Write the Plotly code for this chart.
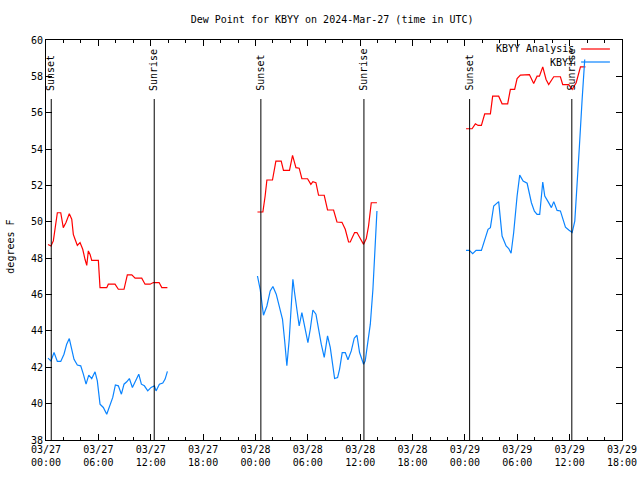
import datetime as dt
import plotly.graph_objects as go

# ---------------- data (hours after 2024-03-27 00:00 UTC, dew point in F) -------------
START = dt.datetime(2024, 3, 27, 0, 0)

analysis_hours_1 = [0.23, 0.57, 0.84, 1.03, 1.30, 1.69, 1.98, 2.29, 2.67, 2.95, 3.13, 3.33, 3.59, 3.90,
                    4.21, 4.47, 4.67, 4.85, 5.05, 5.24, 6.00, 6.19, 6.96, 7.14, 7.91, 8.29, 8.94, 9.32,
                    9.83, 10.21, 10.97, 11.35, 11.93, 12.30, 12.96, 13.27, 13.91]
analysis_vals_1 = [48.75, 48.67, 48.95, 49.59, 50.5, 50.5, 49.68, 49.96, 50.45, 50.14, 49.31, 49.04, 48.7,
                   48.86, 48.49, 47.94, 47.6, 48.4, 48.21, 47.88, 47.88, 46.38, 46.38, 46.57, 46.57, 46.29,
                   46.29, 47.08, 47.08, 46.9, 46.9, 46.57, 46.57, 46.66, 46.66, 46.38, 46.38]

analysis_hours_2 = [24.23, 24.85, 25.11, 25.31, 25.95, 26.34, 26.95, 27.21, 27.90, 28.25, 28.64, 29.01,
                    29.32, 29.97, 30.35, 30.58, 30.93, 31.23, 31.88, 32.26, 32.95, 33.34, 33.91, 34.29,
                    34.67, 34.86, 35.36, 35.63, 36.01, 36.39, 36.70, 36.96, 37.27, 37.92]
analysis_vals_2 = [50.54, 50.54, 51.42, 52.30, 52.30, 53.34, 53.34, 52.83, 52.83, 53.65, 52.98, 52.95,
                   52.37, 52.37, 52.06, 52.21, 52.15, 51.46, 51.46, 50.65, 50.65, 49.99, 49.97, 49.59,
                   48.89, 48.89, 49.41, 49.41, 49.08, 48.76, 49.08, 49.77, 51.05, 51.05]

analysis_hours_3 = [48.13, 48.82, 49.2, 49.51, 49.89, 50.27, 50.92, 51.18, 51.87, 52.26, 52.90, 53.21,
                    53.70, 53.98, 54.36, 55.39, 55.88, 56.27, 56.54, 56.92, 57.30, 57.60, 58.18, 58.94,
                    59.21, 59.9, 60.29, 60.75, 61.24, 61.81]
analysis_vals_3 = [55.12, 55.12, 55.39, 55.30, 55.30, 55.94, 55.94, 56.91, 56.91, 56.49, 56.49, 57.28,
                   57.28, 57.88, 58.07, 58.1, 57.61, 58.01, 58.01, 58.52, 57.83, 57.55, 57.98, 57.98,
                   57.55, 57.55, 57.28, 57.65, 58.52, 58.52]

obs_hours_1 = [0.23, 0.57, 0.92, 1.30, 1.69, 2.06, 2.37, 2.67, 2.95, 3.21, 3.59, 3.98, 4.28, 4.59,
               4.90, 5.24, 5.62, 5.88, 6.19, 6.57, 6.96, 7.26, 7.65, 7.95, 8.29, 8.64, 8.94, 9.25,
               9.55, 9.90, 10.28, 10.63, 10.93, 11.27, 11.66, 12.04, 12.42, 12.61, 12.99, 13.38,
               13.65, 13.91]
obs_vals_1 = [42.5, 42.35, 42.81, 42.32, 42.32, 42.72, 43.27, 43.58, 42.99, 42.44, 42.12, 42.08,
              41.62, 41.07, 41.57, 41.38, 41.75, 41.25, 39.97, 39.79, 39.42, 39.88, 40.34, 41.03,
              40.98, 40.52, 41.07, 41.2, 41.38, 40.89, 41.29, 41.62, 41.07, 40.98, 40.7, 40.89,
              40.98, 40.70, 41.07, 41.13, 41.35, 41.77]

obs_hours_2 = [24.23, 24.54, 24.92, 25.31, 25.69, 26.0, 26.38, 26.76, 27.10, 27.33, 27.60, 27.87,
               28.10, 28.29, 28.48, 28.75, 29.01, 29.32, 29.62, 30.01, 30.28, 30.58, 30.93, 31.23,
               31.54, 31.88, 32.26, 32.57, 32.88, 33.07, 33.41, 33.64, 33.94, 34.29, 34.60, 34.98,
               35.32, 35.63, 35.93, 36.20, 36.39, 36.58, 36.85, 37.16, 37.46, 37.69, 37.92]
obs_vals_2 = [47.02, 46.29, 44.86, 45.37, 46.2, 46.44, 46.02, 45.37, 44.64, 43.54, 42.08, 43.54,
              45.37, 46.84, 46.11, 45.01, 44.27, 45.01, 44.27, 43.36, 44.09, 45.15, 44.92, 44.09,
              43.27, 42.54, 43.73, 43.09, 41.9, 41.38, 41.43, 41.9, 42.81, 42.81, 42.41, 42.9,
              43.6, 43.76, 42.81, 42.35, 42.17, 42.35, 43.18, 44.37, 46.29, 48.67, 50.59]

obs_hours_3 = [48.13, 48.51, 48.89, 49.28, 49.89, 50.27, 50.65, 50.92, 51.30, 51.87, 52.26, 52.72,
               53.02, 53.29, 53.59, 53.98, 54.28, 54.67, 55.13, 55.62, 55.96, 56.27, 56.57, 56.92,
               57.15, 57.53, 57.91, 58.18, 58.56, 58.94, 59.21, 59.52, 59.90, 60.29, 60.59, 60.86,
               61.12, 61.43, 61.73]
obs_vals_3 = [48.43, 48.43, 48.25, 48.43, 48.43, 49.04, 49.59, 49.68, 50.87, 51.11, 49.22, 48.67,
              48.53, 48.27, 49.41, 51.42, 52.57, 52.24, 52.12, 51.05, 50.59, 50.41, 50.41, 52.19,
              51.42, 51.11, 50.78, 51.11, 50.63, 50.60, 50.23, 49.71, 49.55, 49.41, 50.04, 51.97,
              54.16, 56.73, 58.93]

sunset_hours = [0.6, 24.62, 48.54]
sunrise_hours = [12.4, 36.43, 60.25]

series_names = ["KBYY Analysis", "KBYY"]
series_colors = ["#ff0000", "#0a84ff"]

TITLE = "Dew Point for KBYY on 2024-Mar-27 (time in UTC)"
Y_TITLE = "degrees F"
X_START = "2024-03-27 00:00"
X_END = "2024-03-29 18:00"
Y_RANGE = [38, 60]


def to_time(h):
    return START + dt.timedelta(hours=h)


def join_segments(hour_lists, val_lists):
    xs, ys = [], []
    for hs, vs in zip(hour_lists, val_lists):
        assert len(hs) == len(vs)
        if xs:
            xs.append(None)
            ys.append(None)
        xs.extend(to_time(h) for h in hs)
        ys.extend(vs)
    return xs, ys


ax, ay = join_segments([analysis_hours_1, analysis_hours_2, analysis_hours_3],
                       [analysis_vals_1, analysis_vals_2, analysis_vals_3])
ox, oy = join_segments([obs_hours_1, obs_hours_2, obs_hours_3],
                       [obs_vals_1, obs_vals_2, obs_vals_3])

FONT = "DejaVu Sans Mono"

fig = go.Figure()
fig.add_trace(go.Scatter(x=ax, y=ay, mode="lines", name=series_names[0],
                         line=dict(color=series_colors[0], width=1.2), showlegend=False))
fig.add_trace(go.Scatter(x=ox, y=oy, mode="lines", name=series_names[1],
                         line=dict(color=series_colors[1], width=1.2), showlegend=False))

# sunrise / sunset markers
LINE_TOP = 0.8525
events = [(h, "Sunset") for h in sunset_hours] + [(h, "Sunrise") for h in sunrise_hours]
for h, label in events:
    t = to_time(h)
    fig.add_shape(type="line", xref="x", yref="paper", x0=t, x1=t, y0=0, y1=LINE_TOP,
                  line=dict(color="black", width=1))
    fig.add_annotation(xref="x", yref="paper", x=t, y=0.868, text=label, textangle=-90,
                       showarrow=False, xanchor="center", yanchor="bottom",
                       font=dict(family=FONT, size=10, color="black"))

# manual gnuplot-style legend (text left, line sample right)
legend_rows = [0.9775, 0.945]
for name, color, yy in zip(series_names, series_colors, legend_rows):
    fig.add_annotation(xref="paper", yref="paper", x=0.92, y=yy, text=name, showarrow=False,
                       xanchor="right", yanchor="middle",
                       font=dict(family=FONT, size=10, color="black"))
    fig.add_shape(type="line", xref="paper", yref="paper", x0=0.929, x1=0.979, y0=yy, y1=yy,
                  line=dict(color=color, width=1.2))

fig.add_annotation(xref="paper", yref="paper", x=-0.061, y=0.483, text=Y_TITLE, textangle=-90,
                   showarrow=False, xanchor="center", yanchor="middle",
                   font=dict(family=FONT, size=10, color="black"))

fig.update_layout(
    width=640, height=480,
    margin=dict(l=46, r=18, t=40, b=40, pad=0, autoexpand=False),
    paper_bgcolor="white", plot_bgcolor="white",
    font=dict(family=FONT, size=10, color="black"),
    title=dict(text=TITLE, x=0.519, xanchor="center", y=0.96, yanchor="middle",
               yref="container", font=dict(family=FONT, size=10, color="black")),
)
fig.update_xaxes(
    type="date", range=[X_START, X_END], automargin=False,
    tickmode="linear", tick0=X_START, dtick=6 * 3600 * 1000,
    tickformat="%m/%d<br>%H:%M",
    ticks="inside", ticklen=6, tickcolor="black", tickwidth=1,
    minor=dict(dtick=2 * 3600 * 1000, tick0=X_START, ticks="inside", ticklen=3,
               tickcolor="black", tickwidth=1, showgrid=False),
    showline=True, linecolor="black", linewidth=1, mirror="allticks",
    showgrid=False, zeroline=False,
    tickfont=dict(family=FONT, size=10, color="black"),
)
fig.update_yaxes(
    range=Y_RANGE, tickmode="linear", tick0=38, dtick=2, automargin=False,
    ticks="inside", ticklen=6, tickcolor="black", tickwidth=1,
    showline=True, linecolor="black", linewidth=1, mirror="allticks",
    showgrid=False, zeroline=False,
    tickfont=dict(family=FONT, size=10, color="black"),
)

fig.write_html("out.html", config={"displayModeBar": False},
               post_script="document.body.style.margin='0px';document.body.style.padding='0px';")
